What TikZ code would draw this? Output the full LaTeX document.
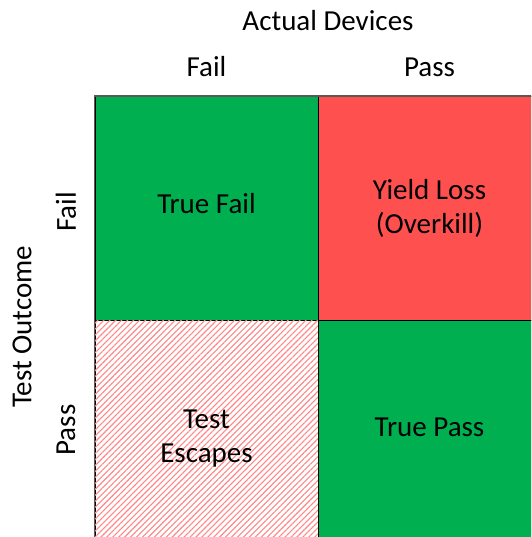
\documentclass[tikz,border=0pt]{standalone}
\usepackage{fontspec}
\setmainfont{Carlito}
\usetikzlibrary{positioning, patterns.meta}
\definecolor{passgreen}{RGB}{0,176,80}
\definecolor{lossred}{RGB}{255,80,80}
\definecolor{hatchred}{RGB}{255,135,135}
\tikzset{
    cell/.style={
        rectangle,
        draw=black,
        line width=0.8pt,
        minimum width=223pt,
        minimum height=223.5pt,
        align=center,
        font=\fontsize{29}{34}\selectfont
    },
    greencell/.style={
        cell,
        fill=passgreen
    },
    redcell/.style={
        cell,
        fill=lossred
    },
    hatchcell/.style={
        cell,
        fill=white,
        postaction={pattern={Lines[angle=45, distance=4.2pt, line width=1.1pt]}, pattern color=hatchred}
    },
    axislabel/.style={
        inner sep=0pt,
        font=\fontsize{29}{34}\selectfont
    },
    frame/.style={
        draw=black!65,
        line width=1.5pt
    }
}

\begin{document}
\begin{tikzpicture}[x=1pt, y=-1pt]

\useasboundingbox (0,0) rectangle (531,537);
\clip (0,0) rectangle (531,537);

% Confusion matrix cells
\node[greencell] (tf) at (206.5,208.25) {\raisebox{10pt}{True Fail}};
\node[redcell] (yl) at (429.5,208.25) {Yield Loss\\(Overkill)};
\node[hatchcell] (te) at (206.5,431.75) {\rule{0pt}{33pt}Test\\Escapes};
\node[greencell] (tp) at (429.5,431.75) {\raisebox{10pt}{True Pass}};

% Outer frame
\draw[frame] (te.south west) -- (tf.north west) -- (yl.north east);

% Column headers
\node[axislabel, above=19.5pt of tf] (colfail) {Fail};
\node[axislabel, above=19.5pt of yl] (colpass) {Pass};
\node[axislabel] (actual) at (328,21) {Actual Devices};

% Row headers
\node[axislabel, rotate=90] (rowfail) at (66,212) {Fail};
\node[axislabel, rotate=90] (rowpass) at (66,430) {Pass};
\node[axislabel, rotate=90] (outcome) at (22,327) {Test Outcome};

\end{tikzpicture}
\end{document}
